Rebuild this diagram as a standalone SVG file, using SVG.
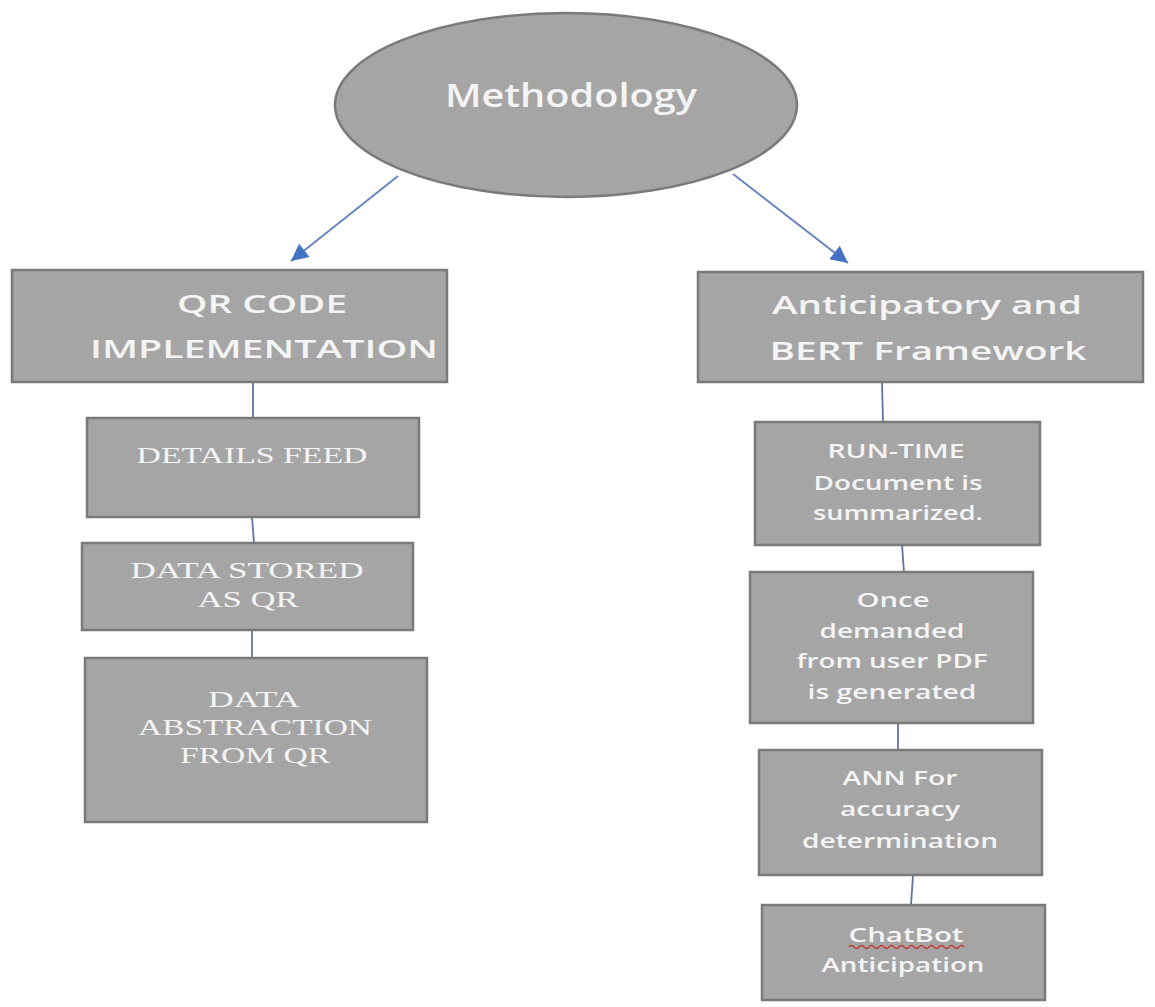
<svg xmlns="http://www.w3.org/2000/svg" width="1155" height="1007" viewBox="0 0 1155 1007">
<style>
.box{fill:#a5a5a5;stroke:#7a7a7a;stroke-width:2.5}
.t{fill:#f4f4f4;font-family:"Open Sans","Noto Sans","Liberation Sans",sans-serif;font-weight:600;text-anchor:middle}
.s{fill:#f4f4f4;font-family:"Liberation Serif","DejaVu Serif",serif;text-anchor:middle}
.c{stroke:#5f73a3;stroke-width:1.8;fill:none}
.a{stroke:#6a86bf;stroke-width:2;fill:none}
</style>
<defs>
<marker id="arrow" viewBox="0 0 10 10" refX="10" refY="5" markerWidth="20" markerHeight="17" orient="auto" markerUnits="userSpaceOnUse">
<path d="M0,0 L10,5 L0,10 z" fill="#4472c4"/>
</marker>
</defs>
<rect width="1155" height="1007" fill="#ffffff"/>
<g id="connectors">
<line class="a" x1="398" y1="176" x2="291" y2="261" marker-end="url(#arrow)"/>
<line class="a" x1="733" y1="174" x2="848" y2="263" marker-end="url(#arrow)"/>
<line class="c" x1="253" y1="382" x2="253" y2="418"/>
<line class="c" x1="252" y1="517" x2="254" y2="543"/>
<line class="c" x1="252" y1="630" x2="252" y2="658"/>
<line class="c" x1="882" y1="382" x2="883" y2="422"/>
<line class="c" x1="902" y1="545" x2="904" y2="572"/>
<line class="c" x1="898" y1="723" x2="898" y2="750"/>
<line class="c" x1="913" y1="875" x2="911" y2="905"/>
</g>
<g id="methodology">
<ellipse cx="566" cy="105" rx="231" ry="92" fill="#a5a5a5" stroke="#7a7a7a" stroke-width="2.5"/>
<text class="t" x="571" y="107" font-size="33" textLength="252" lengthAdjust="spacingAndGlyphs">Methodology</text>
</g>
<g id="qr-code">
<rect class="box" x="12" y="270" width="435" height="112"/>
<text class="t" x="262" y="313" font-size="26" textLength="170" lengthAdjust="spacingAndGlyphs">QR CODE</text>
<text class="t" x="264" y="358" font-size="26" textLength="348" lengthAdjust="spacingAndGlyphs">IMPLEMENTATION</text>
</g>
<g id="anticipatory">
<rect class="box" x="698" y="272" width="445" height="110"/>
<text class="t" x="927" y="314" font-size="26" textLength="310" lengthAdjust="spacingAndGlyphs">Anticipatory and</text>
<text class="t" x="928" y="360" font-size="26" textLength="317" lengthAdjust="spacingAndGlyphs">BERT Framework</text>
</g>
<g id="details-feed">
<rect class="box" x="87" y="418" width="332" height="99"/>
<text class="s" x="252" y="463" font-size="24" textLength="231" lengthAdjust="spacingAndGlyphs">DETAILS FEED</text>
</g>
<g id="data-stored">
<rect class="box" x="82" y="543" width="331" height="87"/>
<text class="s" x="247" y="578" font-size="24" textLength="233" lengthAdjust="spacingAndGlyphs">DATA STORED</text>
<text class="s" x="248" y="607" font-size="24" textLength="101" lengthAdjust="spacingAndGlyphs">AS QR</text>
</g>
<g id="data-abstraction">
<rect class="box" x="85" y="658" width="342" height="164"/>
<text class="s" x="254" y="707" font-size="24" textLength="92" lengthAdjust="spacingAndGlyphs">DATA</text>
<text class="s" x="255" y="735" font-size="24" textLength="234" lengthAdjust="spacingAndGlyphs">ABSTRACTION</text>
<text class="s" x="255" y="763" font-size="24" textLength="150" lengthAdjust="spacingAndGlyphs">FROM QR</text>
</g>
<g id="run-time">
<rect class="box" x="755" y="422" width="285" height="123"/>
<text class="t" x="896" y="458" font-size="19" textLength="137" lengthAdjust="spacingAndGlyphs">RUN-TIME</text>
<text class="t" x="898" y="490" font-size="19" textLength="169" lengthAdjust="spacingAndGlyphs">Document is</text>
<text class="t" x="898" y="520" font-size="19" textLength="170" lengthAdjust="spacingAndGlyphs">summarized.</text>
</g>
<g id="once-demanded">
<rect class="box" x="750" y="572" width="283" height="151"/>
<text class="t" x="893" y="607" font-size="19" textLength="73" lengthAdjust="spacingAndGlyphs">Once</text>
<text class="t" x="892" y="638" font-size="19" textLength="145" lengthAdjust="spacingAndGlyphs">demanded</text>
<text class="t" x="892" y="668" font-size="19" textLength="191" lengthAdjust="spacingAndGlyphs">from user PDF</text>
<text class="t" x="892" y="699" font-size="19" textLength="169" lengthAdjust="spacingAndGlyphs">is generated</text>
</g>
<g id="ann">
<rect class="box" x="759" y="750" width="283" height="125"/>
<text class="t" x="900" y="785" font-size="19" textLength="115" lengthAdjust="spacingAndGlyphs">ANN For</text>
<text class="t" x="900" y="816" font-size="19" textLength="120" lengthAdjust="spacingAndGlyphs">accuracy</text>
<text class="t" x="900" y="848" font-size="19" textLength="196" lengthAdjust="spacingAndGlyphs">determination</text>
</g>
<g id="chatbot">
<rect class="box" x="762" y="905" width="283" height="95"/>
<text class="t" x="906" y="942" font-size="19" textLength="115" lengthAdjust="spacingAndGlyphs">ChatBot</text>
<path d="M849,947 q2.5,-3 5,0 t5,0 t5,0 t5,0 t5,0 t5,0 t5,0 t5,0 t5,0 t5,0 t5,0 t5,0 t5,0 t5,0 t5,0 t5,0 t5,0 t5,0 t5,0 t5,0 t5,0 t5,0 t5,0" fill="none" stroke="#c0392b" stroke-width="1.3"/>
<text class="t" x="903" y="972" font-size="19" textLength="163" lengthAdjust="spacingAndGlyphs">Anticipation</text>
</g>
</svg>
